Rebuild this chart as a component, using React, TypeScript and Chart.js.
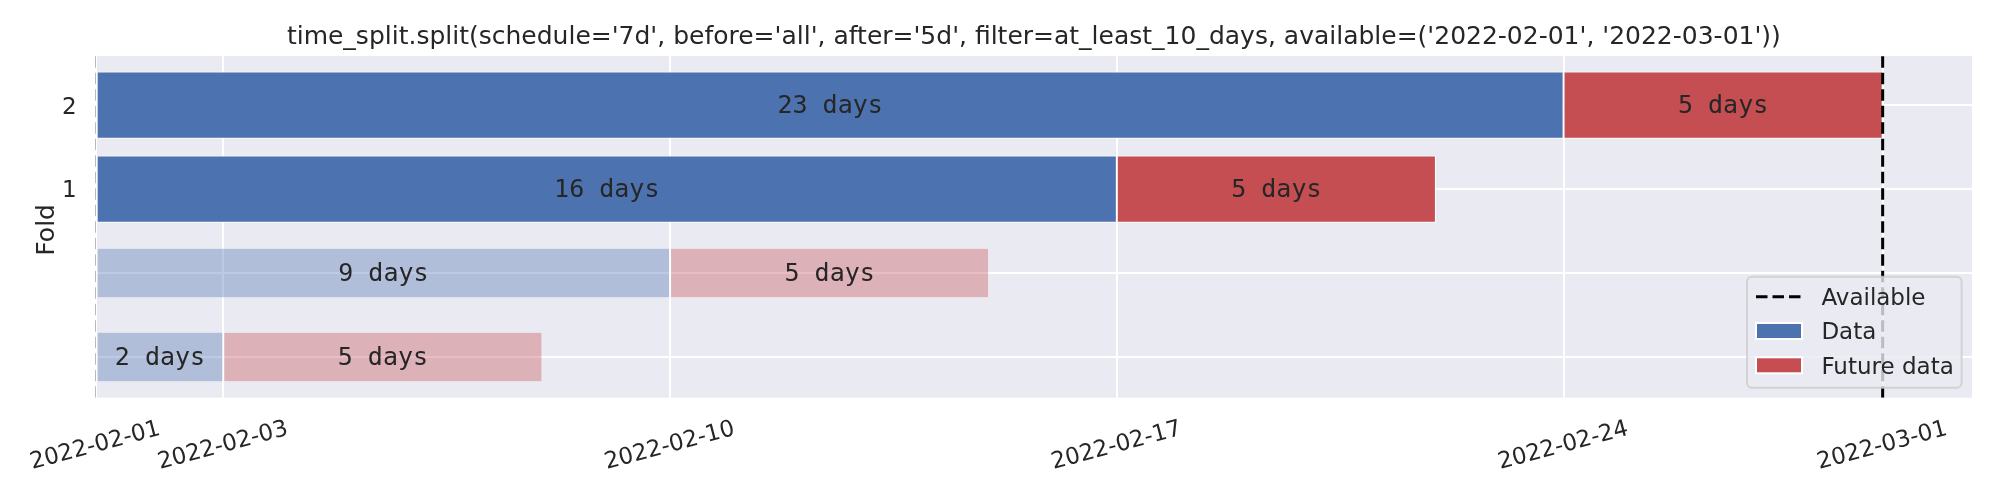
import { useEffect, useRef } from "react";
import { Chart, registerables } from "chart.js";

Chart.register(...registerables);

// ---------- data ----------
const TITLE =
  "time_split.split(schedule='7d', before='all', after='5d', filter=at_least_10_days, available=('2022-02-01', '2022-03-01'))";
const Y_TITLE = "Fold";
const foldRows = [2, 1, 0, -1];
const foldTickLabels = ["2", "1", "", ""];
const foldFiltered = [false, false, true, true];
// days counted from 2022-02-01
const dataStartDay = [0, 0, 0, 0];
const dataEndDay = [23, 16, 9, 2];
const futureEndDay = [28, 21, 14, 7];
const xTickDays = [0, 2, 9, 16, 23, 28];
const xTickLabels = ["2022-02-01", "2022-02-03", "2022-02-10", "2022-02-17", "2022-02-24", "2022-03-01"];
const availableDays = [0, 28];
const legendLabels = ["Available", "Data", "Future data"];
const X_RANGE = [0, 29.4];
const Y_RANGE = [-1.485, 2.585];

// ---------- styles ----------
const BLUE = "#4C72B0";
const RED = "#C44E52";
const BLUE_FADED = "rgba(76,114,176,0.37)";
const RED_FADED = "rgba(196,78,82,0.37)";
const BG = "#EAEAF2";
const TEXT = "#262626";
const SANS = "'DejaVu Sans'";
const MONO = "'DejaVu Sans Mono'";
const DASH = [11.5, 5];

const idx = foldRows.map((_, i) => i);
const kept = idx.filter((i) => !foldFiltered[i]);
const dropped = idx.filter((i) => foldFiltered[i]);

function mkSet(label: string, ids: number[], future: boolean, color: string, edge: string, pct: number) {
  return {
    label,
    data: ids.map((i) => ({
      x: future ? [dataEndDay[i], futureEndDay[i]] : [dataStartDay[i], dataEndDay[i]],
      y: foldRows[i],
    })),
    backgroundColor: color,
    borderColor: edge,
    borderWidth: 1,
    borderSkipped: false,
    barPercentage: pct,
    categoryPercentage: 1,
    grouped: false,
  };
}

const labelsPlugin = {
  id: "customDraw",
  beforeDraw(chart: any) {
    const { ctx, chartArea: a } = chart;
    ctx.save();
    ctx.fillStyle = "#ffffff";
    ctx.fillRect(0, 0, chart.width, chart.height);
    ctx.fillStyle = BG;
    ctx.fillRect(a.left, a.top, a.right - a.left, a.bottom - a.top);
    ctx.restore();
  },
  afterDatasetsDraw(chart: any) {
    const { ctx, chartArea: a } = chart;
    const xs = chart.scales.x;
    ctx.save();
    // bar labels
    ctx.font = `25px ${MONO}`;
    ctx.fillStyle = TEXT;
    ctx.textAlign = "center";
    ctx.textBaseline = "alphabetic";
    chart.data.datasets.forEach((ds: any, di: number) => {
      const meta = chart.getDatasetMeta(di);
      meta.data.forEach((el: any, j: number) => {
        const raw = ds.data[j].x;
        const txt = `${raw[1] - raw[0]} days`;
        ctx.fillText(txt, (el.x + el.base) / 2, el.y + 8);
      });
    });
    // available lines (clipped to the axes; the one on the left edge is mostly clipped away)
    ctx.beginPath();
    ctx.rect(a.left, a.top, a.right - a.left, a.bottom - a.top);
    ctx.clip();
    ctx.strokeStyle = "#000000";
    ctx.lineWidth = 3;
    ctx.setLineDash(DASH);
    availableDays.forEach((d) => {
      let px = xs.getPixelForValue(d);
      if (px - a.left < 2) px -= 1.3;
      ctx.beginPath();
      ctx.moveTo(px, a.bottom);
      ctx.lineTo(px, a.top);
      ctx.stroke();
    });
    ctx.restore();
  },
  afterDraw(chart: any) {
    const { ctx, chartArea: a } = chart;
    const xs = chart.scales.x;
    const ys = chart.scales.y;
    ctx.save();
    ctx.fillStyle = TEXT;
    // title
    ctx.font = `25px ${SANS}`;
    ctx.textAlign = "center";
    ctx.textBaseline = "alphabetic";
    ctx.fillText(TITLE, (a.left + a.right) / 2, a.top - 12.5);
    // y title
    ctx.save();
    ctx.translate(53.5, (a.top + a.bottom) / 2 + 3);
    ctx.rotate(-Math.PI / 2);
    ctx.fillText(Y_TITLE, 0, 0);
    ctx.restore();
    // y tick labels
    ctx.font = `23px ${SANS}`;
    ctx.textAlign = "right";
    foldRows.forEach((r, i) => {
      if (!foldTickLabels[i]) return;
      ctx.fillText(foldTickLabels[i], a.left - 19, ys.getPixelForValue(r) + 8.4);
    });
    // x tick labels
    ctx.textAlign = "center";
    const th = (15 * Math.PI) / 180;
    xTickDays.forEach((d, i) => {
      ctx.save();
      ctx.translate(xs.getPixelForValue(d) - 1, a.bottom + 46);
      ctx.rotate(-th);
      ctx.fillText(xTickLabels[i], 0, 8.4);
      ctx.restore();
    });
    // legend
    const lx = 1747, ly = 276.7, lw = 214.6, lh = 111;
    ctx.beginPath();
    ctx.roundRect(lx, ly, lw, lh, 5);
    ctx.fillStyle = "rgba(234,234,242,0.8)";
    ctx.fill();
    ctx.strokeStyle = "rgba(204,204,204,0.8)";
    ctx.lineWidth = 2;
    ctx.stroke();
    const rowsY = [ly + 20, ly + 54.3, ly + 88.6];
    const hx = lx + 9, hw = 46;
    // dashed handle
    ctx.save();
    ctx.strokeStyle = "#000000";
    ctx.lineWidth = 3;
    ctx.setLineDash(DASH);
    ctx.beginPath();
    ctx.moveTo(hx, rowsY[0]);
    ctx.lineTo(hx + hw, rowsY[0]);
    ctx.stroke();
    ctx.restore();
    [BLUE, RED].forEach((c, k) => {
      const y = rowsY[k + 1];
      ctx.fillStyle = c;
      ctx.fillRect(hx, y - 8, hw, 16);
      ctx.strokeStyle = "#ffffff";
      ctx.lineWidth = 2;
      ctx.strokeRect(hx, y - 8, hw, 16);
    });
    ctx.fillStyle = TEXT;
    ctx.font = `23px ${SANS}`;
    ctx.textAlign = "left";
    legendLabels.forEach((t, k) => {
      ctx.fillText(t, lx + 74.4, rowsY[k] + 8.4);
    });
    ctx.restore();
  },
};

export default function App() {
  const ref = useRef<HTMLCanvasElement>(null);
  useEffect(() => {
    document.body.style.margin = "0";
    const chart = new Chart(ref.current as HTMLCanvasElement, {
      type: "bar",
      data: {
        datasets: [
          mkSet("Data", kept, false, BLUE, "#ffffff", 0.8),
          mkSet("Future data", kept, true, RED, "#ffffff", 0.8),
          mkSet("Data (filtered)", dropped, false, BLUE_FADED, "rgba(255,255,255,0.4)", 0.6),
          mkSet("Future data (filtered)", dropped, true, RED_FADED, "rgba(255,255,255,0.4)", 0.6),
        ] as any,
      },
      options: {
        indexAxis: "y",
        responsive: false,
        animation: false,
        devicePixelRatio: 1,
        layout: { padding: { left: 95.7, right: 28, top: 56, bottom: 102.3 } },
        plugins: { legend: { display: false }, tooltip: { enabled: false }, title: { display: false } },
        scales: {
          x: {
            type: "linear",
            min: X_RANGE[0],
            max: X_RANGE[1],
            afterBuildTicks: (s: any) => {
              s.ticks = xTickDays.map((v) => ({ value: v }));
            },
            ticks: { display: false },
            grid: { color: "#ffffff", lineWidth: 2, drawTicks: false },
            border: { display: false },
          },
          y: {
            type: "linear",
            min: Y_RANGE[0],
            max: Y_RANGE[1],
            offset: false,
            afterBuildTicks: (s: any) => {
              s.ticks = foldRows.map((v) => ({ value: v }));
            },
            ticks: { display: false },
            grid: { color: "#ffffff", lineWidth: 2, drawTicks: false, offset: false },
            border: { display: false },
          },
        },
      } as any,
      plugins: [labelsPlugin],
    });
    return () => chart.destroy();
  }, []);
  return (
    <div style={{ width: 2000, height: 500 }}>
      <canvas ref={ref} width={2000} height={500} style={{ display: "block" }} />
    </div>
  );
}
